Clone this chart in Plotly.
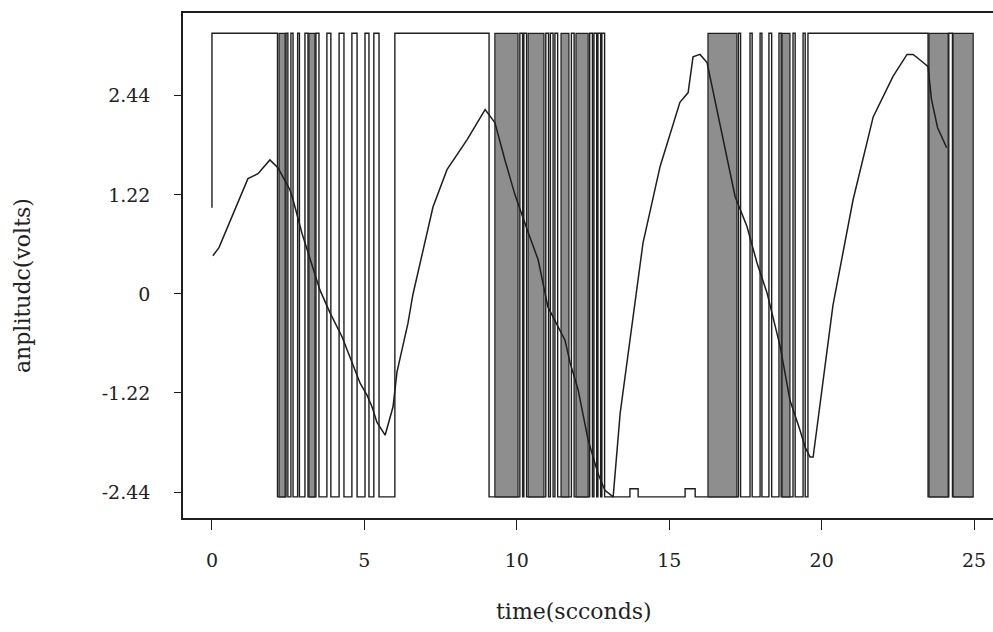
import plotly.graph_objects as go

# ---------------- data ----------------
x_ticks = [0, 5, 10, 15, 20, 25]
y_ticks = [-2.44, -1.22, 0, 1.22, 2.44]
y_tick_labels = ["-2.44", "-1.22", "0", "1.22", "2.44"]

wave_start = [0.0, 1.06]          # (t, volts) where the switching signal begins
wave_high = 3.21
wave_low = -2.50
wave_end_t = 24.97

# high pulses of the switching signal [start, end] in seconds
high_pulses = [
    [0.00, 2.15],
    [2.43, 2.49], [2.59, 2.66], [2.81, 2.87], [3.05, 3.15], [3.41, 3.51],
    [3.77, 3.90], [4.17, 4.33], [4.59, 4.76], [5.02, 5.15], [5.31, 5.48],
    [6.00, 9.09],
    [10.10, 10.19], [10.23, 10.32], [10.95, 11.04], [11.10, 11.19],
    [11.25, 11.34], [11.79, 11.88], [12.39, 12.48], [12.53, 12.62],
    [12.66, 12.75], [12.79, 12.88],
    [17.27, 17.34], [17.65, 17.72], [17.98, 18.04], [18.27, 18.36],
    [18.60, 18.67], [19.06, 19.13], [19.39, 19.46],
    [19.55, 23.49],
    [24.17, 24.29],
]
# small bumps on the low level
low_bumps = [[13.71, 13.98], [15.52, 15.85]]
bump_level = -2.40

# intervals of very fast switching (rendered as dense grey bands)
dense_bands = [
    [2.20, 2.40], [3.18, 3.38],
    [9.28, 10.04], [10.37, 10.89], [11.45, 11.71], [11.94, 12.34],
    [16.27, 17.22], [18.70, 18.96],
    [23.52, 24.15], [24.31, 24.97],
]

# smooth (averaged) response
smooth_t = [0.03, 0.23, 1.18, 1.51, 1.90, 2.17, 2.56, 2.66, 2.95, 3.54, 3.87, 4.27,
            4.86, 5.09, 5.25, 5.41, 5.68, 5.94, 6.07, 6.43, 6.59, 7.25, 7.71, 8.37,
            8.96, 9.28, 9.61, 9.94, 10.37, 10.70, 11.02, 11.58, 11.75, 12.01, 12.34,
            12.66, 12.89, 13.16, 13.39, 13.88, 14.14, 14.70, 15.35, 15.62, 15.78,
            16.01, 16.24, 17.16, 17.55, 17.88, 18.21, 18.64, 18.96, 19.29, 19.46,
            19.62, 19.72, 20.37, 21.03, 21.69, 22.34, 22.80, 23.00, 23.33, 23.49,
            23.60, 23.80, 24.10]
smooth_v = [0.47, 0.57, 1.42, 1.48, 1.65, 1.55, 1.28, 1.16, 0.75, 0.05, -0.23, -0.53,
            -1.10, -1.25, -1.39, -1.58, -1.74, -1.39, -0.96, -0.36, -0.01, 1.07, 1.53,
            1.90, 2.27, 2.11, 1.65, 1.22, 0.76, 0.42, -0.16, -0.57, -0.85, -1.18, -1.80,
            -2.21, -2.42, -2.50, -1.47, -0.07, 0.63, 1.57, 2.36, 2.48, 2.92, 2.95, 2.85,
            1.20, 0.83, 0.38, 0.01, -0.65, -1.31, -1.68, -1.89, -2.01, -2.01, -0.14,
            1.16, 2.18, 2.68, 2.95, 2.95, 2.85, 2.80, 2.40, 2.05, 1.80]

# ---------------- build traces ----------------
events = [(a, b, wave_high) for a, b in high_pulses] + [(a, b, bump_level) for a, b in low_bumps]
events.sort()

wx, wy = [wave_start[0]], [wave_start[1]]
for i, (a, b, lvl) in enumerate(events):
    if i > 0:
        wx.append(a); wy.append(wave_low)
    wx += [a, b, b]
    wy += [lvl, lvl, wave_low]
wx.append(wave_end_t); wy.append(wave_low)

bx, by = [], []
for a, b in dense_bands:
    bx += [a, a, b, b, a, None]
    by += [wave_low, wave_high, wave_high, wave_low, wave_low, None]

ink = "#1e1e1e"
fig = go.Figure()
fig.add_trace(go.Scatter(x=wx, y=wy, mode="lines",
                         line=dict(color=ink, width=1.4), hoverinfo="skip"))
fig.add_trace(go.Scatter(x=bx, y=by, mode="lines", fill="toself",
                         fillcolor="#8e8e8e", line=dict(color=ink, width=1.2),
                         hoverinfo="skip"))
fig.add_trace(go.Scatter(x=smooth_t, y=smooth_v, mode="lines",
                         line=dict(color=ink, width=1.5), hoverinfo="skip"))

serif = "DejaVu Serif"
fig.update_layout(
    width=993, height=632,
    margin=dict(l=183, r=0, t=13, b=114),
    paper_bgcolor="white", plot_bgcolor="white",
    showlegend=False,
    xaxis=dict(range=[-0.95, 25.62], tickvals=x_ticks, ticks="outside",
               ticklen=10, tickwidth=1.3, tickcolor=ink,
               showline=True, linecolor=ink, linewidth=1.5, mirror=True,
               showgrid=False, zeroline=False, ticklabelstandoff=14,
               tickfont=dict(family=serif, size=19, color="#222")),
    yaxis=dict(range=[-2.76, 3.46], tickvals=y_ticks, ticktext=y_tick_labels,
               ticks="outside", ticklen=7, tickwidth=1.3, tickcolor=ink,
               showline=True, linecolor=ink, linewidth=1.5,
               showgrid=False, zeroline=False, ticklabelstandoff=20,
               tickfont=dict(family=serif, size=19, color="#222")),
    annotations=[
        dict(text="time(scconds)", xref="paper", yref="paper", x=0.483, y=-0.186,
             showarrow=False, font=dict(family=serif, size=22, color="#222"),
             xanchor="center", yanchor="middle"),
        dict(text="anplitudc(volts)", xref="paper", yref="paper", x=-0.199, y=0.461,
             textangle=-90, showarrow=False,
             font=dict(family=serif, size=22, color="#222"),
             xanchor="center", yanchor="middle"),
    ],
)

fig.write_html("out.html", config={"displayModeBar": False})

# remove the default page margin so the figure sits at the window origin
with open("out.html", "r", encoding="utf-8") as fh:
    page = fh.read()
page = page.replace("<head>", "<head><style>html,body{margin:0;padding:0;overflow:hidden;}</style>", 1)
with open("out.html", "w", encoding="utf-8") as fh:
    fh.write(page)
